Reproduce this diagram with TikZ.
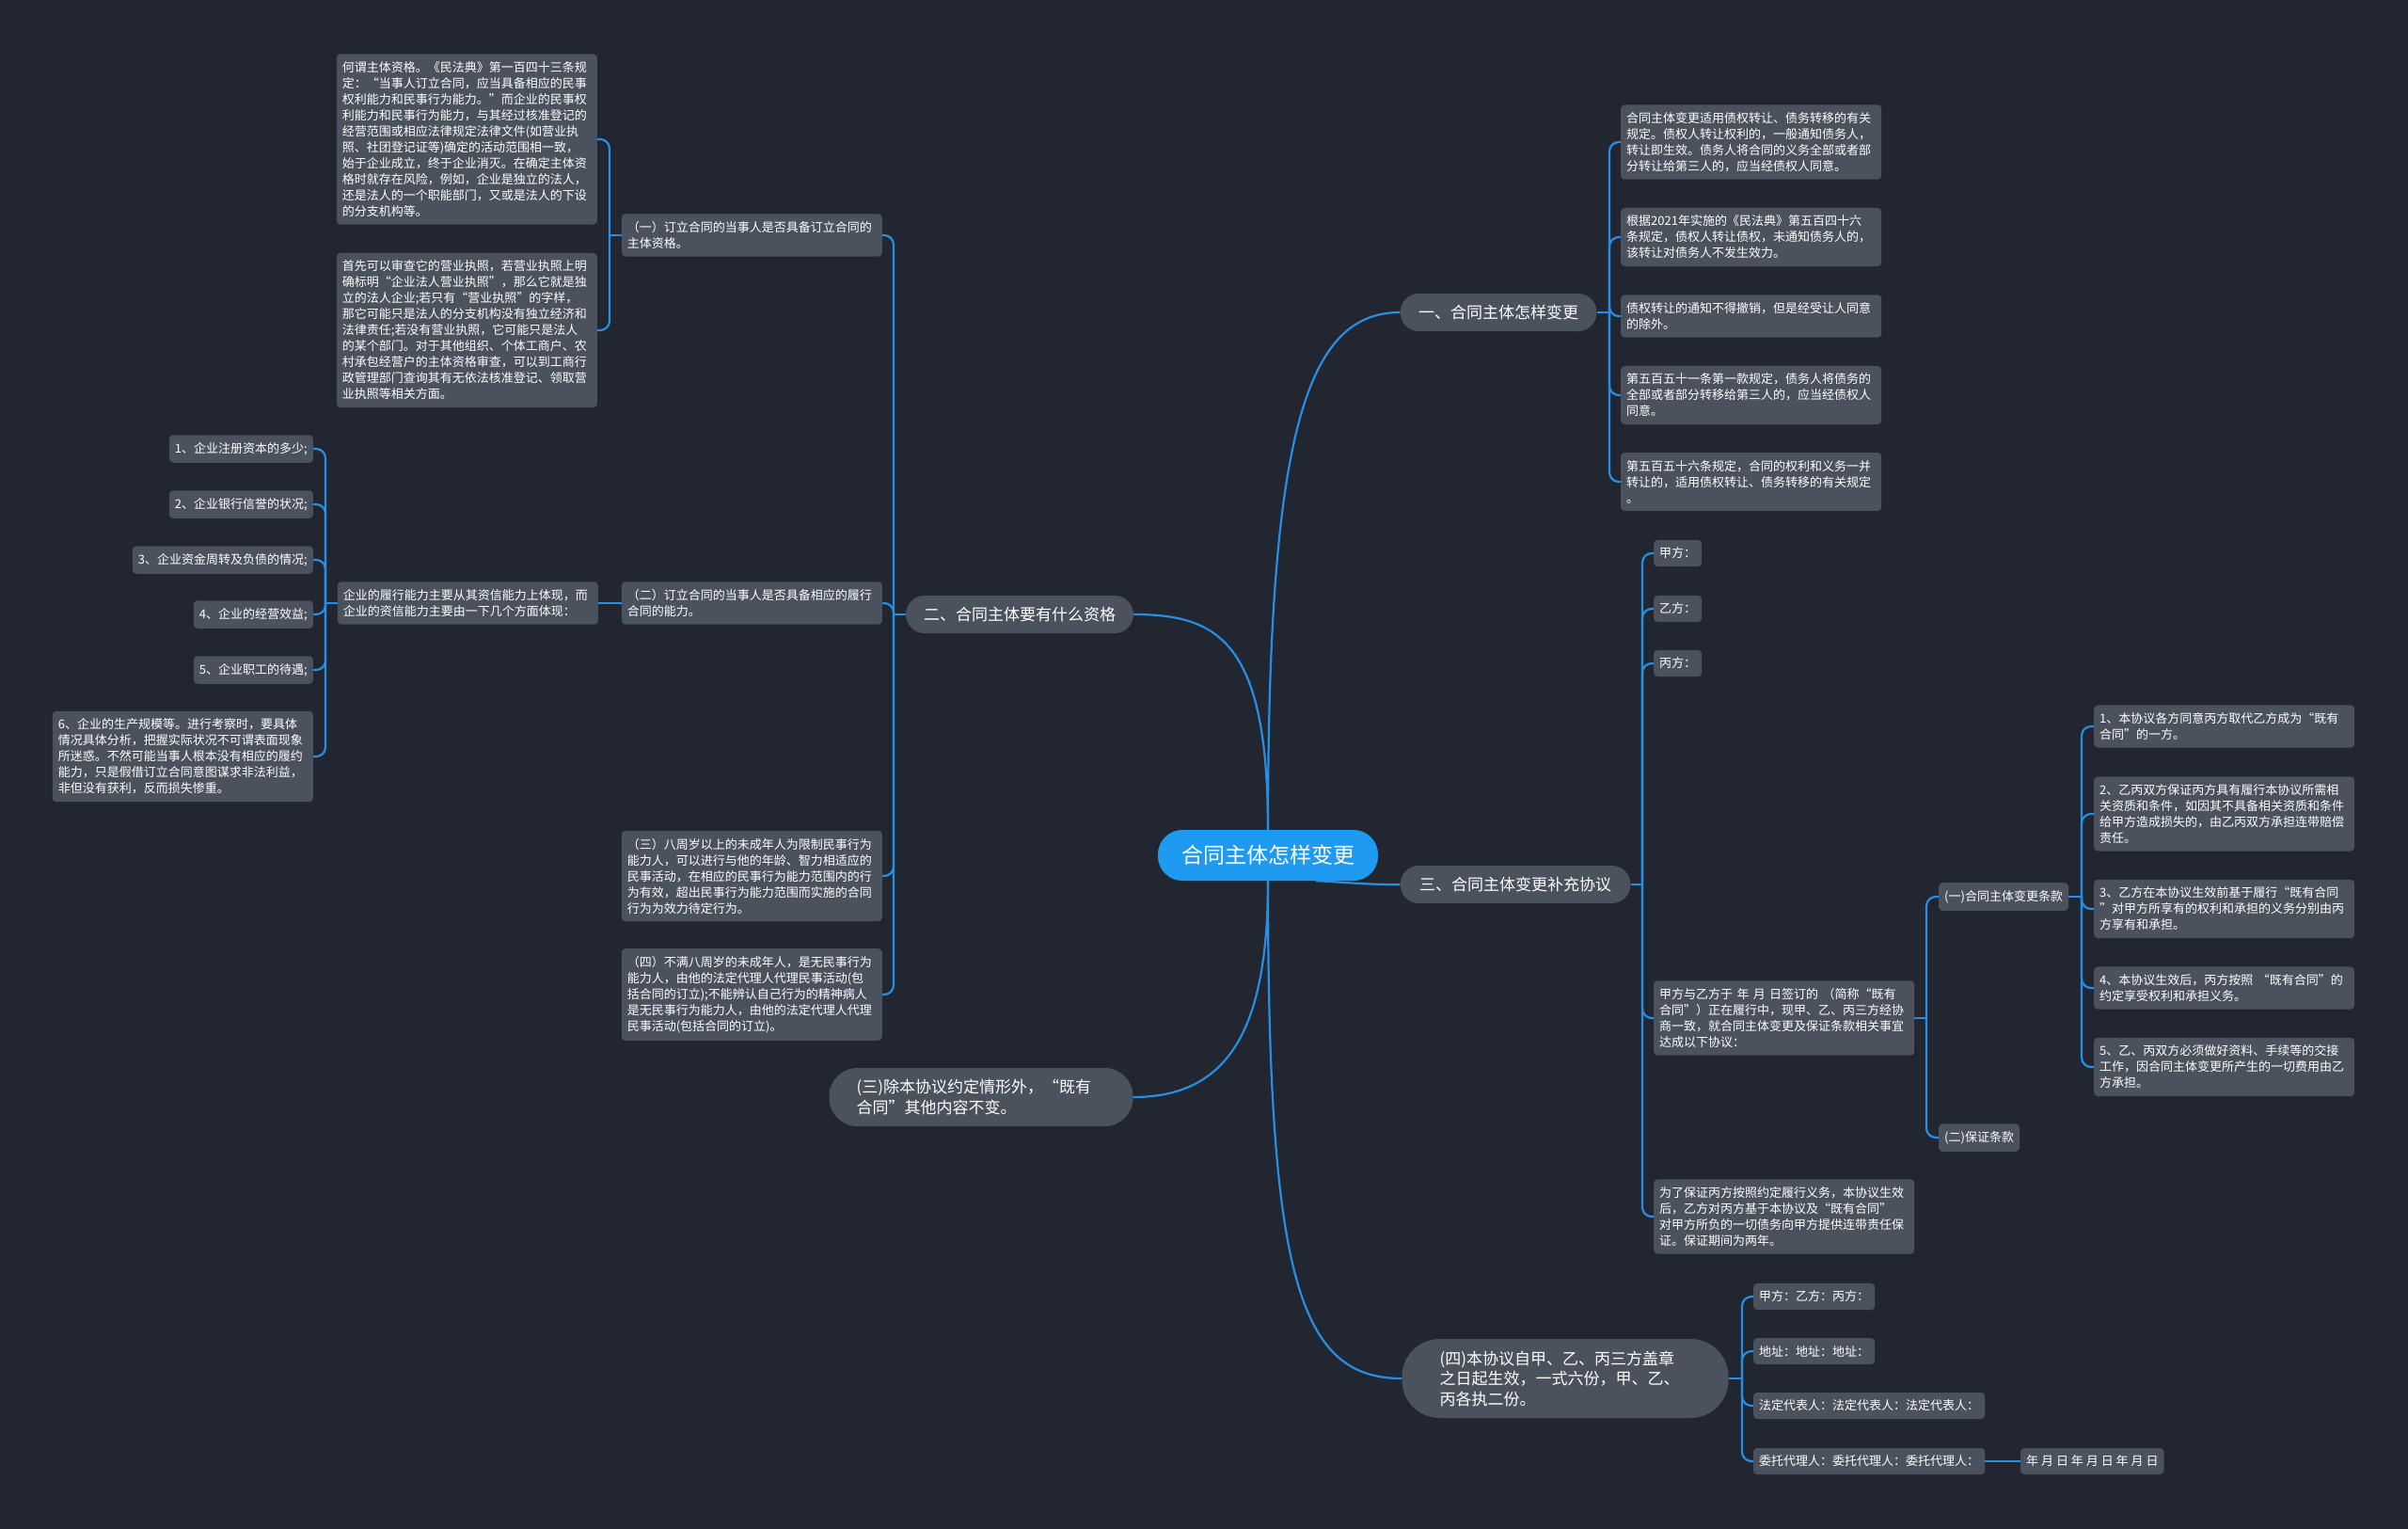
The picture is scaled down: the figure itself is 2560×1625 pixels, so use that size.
\documentclass[tikz,border=0pt]{standalone}
\usepackage{fontspec}
\setmainfont{Noto Sans CJK SC}
\usepackage{xcolor}
\definecolor{bg}{RGB}{34,38,49}
\definecolor{box}{RGB}{76,81,94}
\definecolor{link}{RGB}{38,143,228}
\definecolor{hub}{RGB}{30,155,240}
\newcommand\leaffont{\fontsize{13}{17}\selectfont}
\newcommand\branchfont{\fontsize{17}{21.5}\selectfont}
\newcommand\hubfont{\fontsize{23}{28}\selectfont}

\begin{document}
\begin{tikzpicture}[x=1pt,y=-1pt,
    leaf/.style={fill=box,rounded corners=4pt,text=white,font=\leaffont,align=left,inner xsep=6pt,inner ysep=8pt},
    wide/.style={leaf,text width=265pt},
    branch/.style={fill=box,rounded corners=20pt,text=white,font=\branchfont,minimum height=40pt},
    hubnode/.style={fill=hub,rounded corners=26pt,text=white,font=\hubfont,minimum width=234pt,minimum height=54pt},
    conn/.style={draw=link,line width=2.2pt},
    fork/.style={conn,rounded corners=10pt}]
    \fill[bg] (0,0) rectangle (2560,1625);
    \useasboundingbox (0,0) rectangle (2560,1625);

    % centre and main branches
    \node[hubnode] (root) at (1348,909) {合同主体怎样变更};
    \node[branch,minimum width=209pt] (one) at (1593,332) {一、合同主体怎样变更};
    \node[branch,minimum width=242pt] (two) at (1084,653) {二、合同主体要有什么资格};
    \node[branch,minimum width=245pt] (three) at (1611,940) {三、合同主体变更补充协议};
    \node[branch,align=left,text width=265pt,inner xsep=29pt,minimum height=62pt,rounded corners=30pt] (keep) at (1043,1166)
      {(三)除本协议约定情形外，“既有\\合同”其他内容不变。};
    \node[branch,align=left,text width=267pt,inner xsep=40pt,minimum height=84pt,rounded corners=40pt] (valid) at (1664,1465)
      {(四)本协议自甲、乙、丙三方盖章\\之日起生效，一式六份，甲、乙、\\丙各执二份。};

    \draw[conn] (root.north) .. controls +(0,-420) and +(-100,0) .. (one.west);
    \draw[conn] (root.north) .. controls +(0,-200) and +(90,0) .. (two.east);
    \draw[conn] (root.-28) .. controls +(40,2) and +(-40,0) .. (three.west);
    \draw[conn] (root.south) .. controls +(0,160) and +(100,0) .. (keep.east);
    \draw[conn] (root.south) .. controls +(0,420) and +(-110,0) .. (valid.west);

    % 一
    \node[wide,anchor=west] (one1) at (1723,151) {合同主体变更适用债权转让、债务转移的有关\\规定。债权人转让权利的，一般通知债务人，\\转让即生效。债务人将合同的义务全部或者部\\分转让给第三人的，应当经债权人同意。};
    \node[wide,anchor=west] (one2) at (1723,252) {根据2021年实施的《民法典》第五百四十六\\条规定，债权人转让债权，未通知债务人的，\\该转让对债务人不发生效力。};
    \node[wide,anchor=west] (one3) at (1723,336) {债权转让的通知不得撤销，但是经受让人同意\\的除外。};
    \node[wide,anchor=west] (one4) at (1723,420) {第五百五十一条第一款规定，债务人将债务的\\全部或者部分转移给第三人的，应当经债权人\\同意。};
    \node[wide,anchor=west] (one5) at (1723,512) {第五百五十六条规定，合同的权利和义务一并\\转让的，适用债权转让、债务转移的有关规定\\。};
    \coordinate (jone) at (1711,332);
    \draw[conn] (one.east) -- (jone);
    \foreach \n in {one1,one2,one3,one4,one5}
      \draw[fork] (jone) |- (\n.west);

    % 二
    \node[wide,anchor=east] (subj) at (938,250) {（一）订立合同的当事人是否具备订立合同的\\主体资格。};
    \node[wide,anchor=east] (able) at (938,641) {（二）订立合同的当事人是否具备相应的履行\\合同的能力。};
    \node[wide,anchor=east] (minor8) at (938,931) {（三）八周岁以上的未成年人为限制民事行为\\能力人，可以进行与他的年龄、智力相适应的\\民事活动，在相应的民事行为能力范围内的行\\为有效，超出民事行为能力范围而实施的合同\\行为为效力待定行为。};
    \node[wide,anchor=east] (minor0) at (938,1057) {（四）不满八周岁的未成年人，是无民事行为\\能力人，由他的法定代理人代理民事活动(包\\括合同的订立);不能辨认自己行为的精神病人\\是无民事行为能力人，由他的法定代理人代理\\民事活动(包括合同的订立)。};
    \coordinate (jtwo) at (950,653);
    \draw[conn] (two.west) -- (jtwo);
    \foreach \n in {subj,able,minor8,minor0}
      \draw[fork] (jtwo) |- (\n.east);

    \node[wide,anchor=east] (subj1) at (635,148) {何谓主体资格。《民法典》第一百四十三条规\\定：“当事人订立合同，应当具备相应的民事\\权利能力和民事行为能力。”而企业的民事权\\利能力和民事行为能力，与其经过核准登记的\\经营范围或相应法律规定法律文件(如营业执\\照、社团登记证等)确定的活动范围相一致，\\始于企业成立，终于企业消灭。在确定主体资\\格时就存在风险，例如，企业是独立的法人，\\还是法人的一个职能部门，又或是法人的下设\\的分支机构等。};
    \node[wide,anchor=east] (subj2) at (635,351) {首先可以审查它的营业执照，若营业执照上明\\确标明“企业法人营业执照”，那么它就是独\\立的法人企业;若只有“营业执照”的字样，\\那它可能只是法人的分支机构没有独立经济和\\法律责任;若没有营业执照，它可能只是法人\\的某个部门。对于其他组织、个体工商户、农\\村承包经营户的主体资格审查，可以到工商行\\政管理部门查询其有无依法核准登记、领取营\\业执照等相关方面。};
    \coordinate (jsubj) at (648,250);
    \draw[conn] (subj.west) -- (jsubj);
    \foreach \n in {subj1,subj2}
      \draw[fork] (jsubj) |- (\n.east);

    \node[wide,anchor=east] (credit) at (636,641) {企业的履行能力主要从其资信能力上体现，而\\企业的资信能力主要由一下几个方面体现：};
    \draw[conn] (able.west) -- (credit.east);

    \node[leaf,anchor=east] (cr1) at (333,477) {1、企业注册资本的多少;};
    \node[leaf,anchor=east] (cr2) at (333,536) {2、企业银行信誉的状况;};
    \node[leaf,anchor=east] (cr3) at (333,595) {3、企业资金周转及负债的情况;};
    \node[leaf,anchor=east] (cr4) at (333,653) {4、企业的经营效益;};
    \node[leaf,anchor=east] (cr5) at (333,712) {5、企业职工的待遇;};
    \node[wide,anchor=east] (cr6) at (333,804) {6、企业的生产规模等。进行考察时，要具体\\情况具体分析，把握实际状况不可谓表面现象\\所迷惑。不然可能当事人根本没有相应的履约\\能力，只是假借订立合同意图谋求非法利益，\\非但没有获利，反而损失惨重。};
    \coordinate (jcredit) at (346,641);
    \draw[conn] (credit.west) -- (jcredit);
    \foreach \n in {cr1,cr2,cr3,cr4,cr5,cr6}
      \draw[fork] (jcredit) |- (\n.east);

    % 三
    \node[leaf,anchor=west] (pa) at (1758,588) {甲方：};
    \node[leaf,anchor=west] (pb) at (1758,647) {乙方：};
    \node[leaf,anchor=west] (pc) at (1758,705) {丙方：};
    \node[wide,anchor=west] (agree) at (1758,1082) {甲方与乙方于 年 月 日签订的 （简称“既有\\合同”）正在履行中，现甲、乙、丙三方经协\\商一致，就合同主体变更及保证条款相关事宜\\达成以下协议：};
    \node[wide,anchor=west] (surety) at (1758,1293) {为了保证丙方按照约定履行义务，本协议生效\\后，乙方对丙方基于本协议及“既有合同”\\对甲方所负的一切债务向甲方提供连带责任保\\证。保证期间为两年。};
    \coordinate (jthree) at (1746,940);
    \draw[conn] (three.east) -- (jthree);
    \foreach \n in {pa,pb,pc,agree,surety}
      \draw[fork] (jthree) |- (\n.west);

    \node[leaf,anchor=west] (change) at (2061,953) {(一)合同主体变更条款};
    \node[leaf,anchor=west] (guar) at (2061,1209) {(二)保证条款};
    \coordinate (jagree) at (2048,1082);
    \draw[conn] (agree.east) -- (jagree);
    \foreach \n in {change,guar}
      \draw[fork] (jagree) |- (\n.west);

    \node[wide,anchor=west] (ch1) at (2226,772) {1、本协议各方同意丙方取代乙方成为“既有\\合同”的一方。};
    \node[wide,anchor=west] (ch2) at (2226,865) {2、乙丙双方保证丙方具有履行本协议所需相\\关资质和条件，如因其不具备相关资质和条件\\给甲方造成损失的，由乙丙双方承担连带赔偿\\责任。};
    \node[wide,anchor=west] (ch3) at (2226,966) {3、乙方在本协议生效前基于履行“既有合同\\”对甲方所享有的权利和承担的义务分别由丙\\方享有和承担。};
    \node[wide,anchor=west] (ch4) at (2226,1050) {4、本协议生效后，丙方按照 “既有合同”的\\约定享受权利和承担义务。};
    \node[wide,anchor=west] (ch5) at (2226,1134) {5、乙、丙双方必须做好资料、手续等的交接\\工作，因合同主体变更所产生的一切费用由乙\\方承担。};
    \coordinate (jchange) at (2213,953);
    \draw[conn] (change.east) -- (jchange);
    \foreach \n in {ch1,ch2,ch3,ch4,ch5}
      \draw[fork] (jchange) |- (\n.west);

    % (四)
    \node[leaf,anchor=west] (sign1) at (1864,1378) {甲方：乙方：丙方：};
    \node[leaf,anchor=west] (sign2) at (1864,1436) {地址：地址：地址：};
    \node[leaf,anchor=west] (sign3) at (1864,1494) {法定代表人：法定代表人：法定代表人：};
    \node[leaf,anchor=west] (sign4) at (1864,1553) {委托代理人：委托代理人：委托代理人：};
    \node[leaf,anchor=west] (date) at (2148,1553) {年 月 日 年 月 日 年 月 日};
    \coordinate (jvalid) at (1852,1465);
    \draw[conn] (valid.east) -- (jvalid);
    \foreach \n in {sign1,sign2,sign3,sign4}
      \draw[fork] (jvalid) |- (\n.west);
    \draw[conn] (sign4.east) -- (date.west);
\end{tikzpicture}
\end{document}
